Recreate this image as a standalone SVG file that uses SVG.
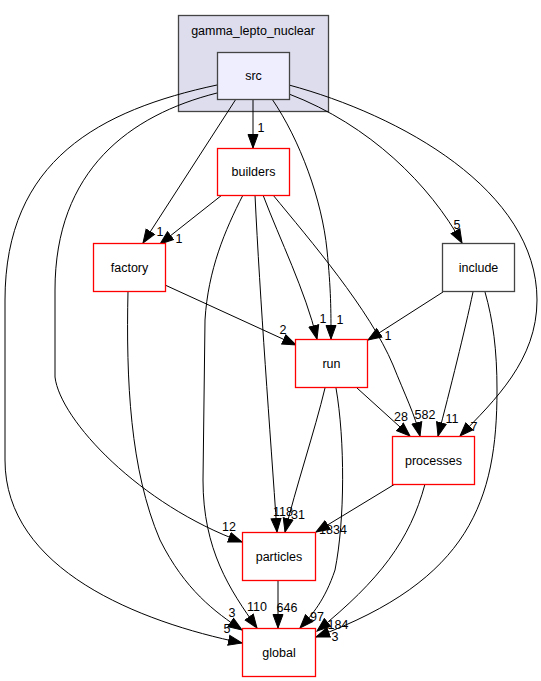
<svg xmlns="http://www.w3.org/2000/svg" width="541" height="681" viewBox="0 0 541 681">
<style>
text{font-family:"Liberation Sans",Arial,sans-serif;font-size:12.5px;fill:#000;text-anchor:middle}
.e{fill:none;stroke:#000;stroke-width:1}
.r{fill:#fff;stroke:#ff0000;stroke-width:1.3}
.k{fill:#fff;stroke:#444;stroke-width:1.3}
.el{font-size:12.5px}
</style>
<defs>
<marker id="ah" markerUnits="userSpaceOnUse" markerWidth="15" markerHeight="12" refX="14" refY="6" orient="auto">
<path d="M0.5,1 L14,6 L0.5,11 z" fill="#000" stroke="#000" stroke-width="1"/>
</marker>
</defs>
<rect width="541" height="681" fill="#fff"/>
<g id="cluster_gamma_lepto_nuclear">
<rect x="178.5" y="15.5" width="150" height="96" fill="#ddddee" stroke="#444" stroke-width="1.3"/>
<text x="253" y="35">gamma_lepto_nuclear</text>
</g>
<g id="edges" marker-end="url(#ah)">
<path class="e" d="M253,99.5 L253,148"/>
<path class="e" d="M236,99 L143,243"/>
<path class="e" d="M222,195 L160,244"/>
<path class="e" d="M289,94 C370,125 430,185 462,243"/>
<path class="e" d="M289,85 C400,115 537,190 537,300 C537,360 495,400 460,436"/>
<path class="e" d="M272,99 C300,140 322,200 327,250 C331,290 331,310 331,339"/>
<path class="e" d="M263,195 C280,240 305,290 317,339"/>
<path class="e" d="M273,195 C310,240 370,310 393,365 C405,395 415,415 420,436"/>
<path class="e" d="M165,285 L296,345"/>
<path class="e" d="M443,292 L368,340"/>
<path class="e" d="M357,388 L410,436"/>
<path class="e" d="M473,292 C465,330 450,390 438,436"/>
<path class="e" d="M217,93 C130,115 55,170 55,290 L55,377 C60,420 140,505 242,542"/>
<path class="e" d="M217,85 C100,110 5,160 5,300 L5,460 C5,570 140,622 242,643"/>
<path class="e" d="M128,291 C126,380 130,470 160,540 C185,590 215,612 242,630"/>
<path class="e" d="M243,195 C225,230 208,270 205,320 L203,480 C203,550 230,590 257,628"/>
<path class="e" d="M255,195 C260,300 270,430 277,532"/>
<path class="e" d="M325,388 C315,430 295,490 285,532"/>
<path class="e" d="M395,484 L316,532"/>
<path class="e" d="M278,580 L278,628"/>
<path class="e" d="M336,388 C345,440 345,520 335,570 C325,600 312,615 300,628"/>
<path class="e" d="M425,484 C410,540 380,580 317,631"/>
<path class="e" d="M485,292 C493,320 497,350 497,390 C497,500 470,580 316,637"/>
</g>
<g id="edge_labels">
<text class="el" x="261" y="132">1</text>
<text class="el" x="160" y="236">1</text>
<text class="el" x="179" y="243">1</text>
<text class="el" x="457" y="229">5</text>
<text class="el" x="340" y="324">1</text>
<text class="el" x="323" y="323">1</text>
<text class="el" x="283" y="334">2</text>
<text class="el" x="388" y="340">1</text>
<text class="el" x="401" y="421">28</text>
<text class="el" x="425" y="419">582</text>
<text class="el" x="452" y="423">11</text>
<text class="el" x="474" y="431">7</text>
<text class="el" x="229" y="531">12</text>
<text class="el" x="283" y="516">118</text>
<text class="el" x="298" y="519">31</text>
<text class="el" x="333" y="534">1834</text>
<text class="el" x="232" y="617">3</text>
<text class="el" x="227" y="633">5</text>
<text class="el" x="257" y="611">110</text>
<text class="el" x="287" y="612">646</text>
<text class="el" x="317" y="621">97</text>
<text class="el" x="338" y="629">184</text>
<text class="el" x="335" y="641">3</text>
</g>
<g id="node_src"><rect x="217.5" y="52.5" width="72" height="47" fill="#eeeeff" stroke="#444" stroke-width="1.3"/><text x="253.5" y="80">src</text></g>
<g id="node_builders"><rect class="r" x="217.5" y="148.5" width="72" height="47"/><text x="253.5" y="176">builders</text></g>
<g id="node_factory"><rect class="r" x="93.5" y="243.5" width="72" height="48"/><text x="129.5" y="272">factory</text></g>
<g id="node_include"><rect class="k" x="442.5" y="243.5" width="72" height="48"/><text x="478.5" y="272">include</text></g>
<g id="node_run"><rect class="r" x="295.5" y="339.5" width="72" height="48"/><text x="331.5" y="368">run</text></g>
<g id="node_processes"><rect class="r" x="392.5" y="436.5" width="82" height="48"/><text x="433.5" y="464.5">processes</text></g>
<g id="node_particles"><rect class="r" x="242.5" y="532.5" width="73" height="48"/><text x="279" y="561">particles</text></g>
<g id="node_global"><rect class="r" x="242.5" y="628.5" width="73" height="48"/><text x="279" y="657">global</text></g>
</svg>
